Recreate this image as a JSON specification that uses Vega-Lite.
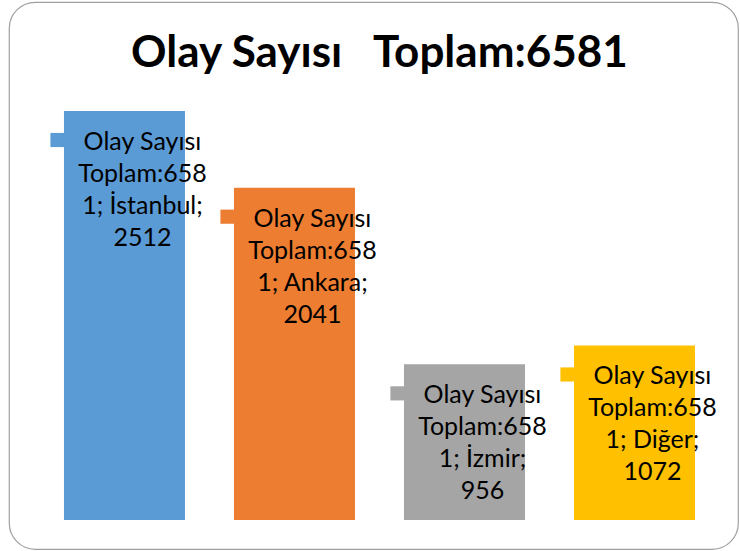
{
  "$schema": "https://vega.github.io/schema/vega-lite/v6.json",
  "width": 729,
  "height": 547,
  "autosize": {"type": "none"},
  "padding": {"left": 9, "top": 2, "right": 2, "bottom": 2},
  "background": "white",
  "config": {
    "view": {"stroke": "#a0a0a0", "strokeWidth": 1.2, "cornerRadius": 26},
    "font": "Lato"
  },
  "title": {
    "text": "Olay Sayısı\u00a0\u00a0\u00a0Toplam:6581",
    "font": "Lato",
    "fontSize": 44,
    "fontWeight": "bold",
    "color": "#000000",
    "anchor": "middle",
    "baseline": "alphabetic",
    "offset": -109,
    "dx": 6
  },
  "data": {
    "values": [
      {"city": "İstanbul", "value": 2512, "label": ["Olay Sayısı", "Toplam:658", "1; İstanbul;", "2512"]},
      {"city": "Ankara", "value": 2041, "label": ["Olay Sayısı", "Toplam:658", "1; Ankara;", "2041"]},
      {"city": "İzmir", "value": 956, "label": ["Olay Sayısı", "Toplam:658", "1; İzmir;", "956"]},
      {"city": "Diğer", "value": 1072, "label": ["Olay Sayısı", "Toplam:658", "1; Diğer;", "1072"]}
    ]
  },
  "encoding": {
    "x": {
      "field": "city",
      "type": "nominal",
      "sort": null,
      "axis": null,
      "scale": {"paddingInner": 0.2882, "paddingOuter": 0.2882, "align": 0.561}
    },
    "y": {
      "field": "value",
      "type": "quantitative",
      "axis": null,
      "scale": {"domain": [-178, 3181.5], "nice": false, "zero": false}
    },
    "color": {
      "field": "city",
      "type": "nominal",
      "legend": null,
      "scale": {
        "domain": ["İstanbul", "Ankara", "İzmir", "Diğer"],
        "range": ["#5B9BD5", "#ED7D31", "#A5A5A5", "#FFC000"]
      }
    }
  },
  "layer": [
    {
      "mark": {"type": "bar"},
      "encoding": {"y2": {"datum": 0}}
    },
    {
      "mark": {"type": "point", "shape": "square", "filled": true, "opacity": 1, "size": 200, "strokeWidth": 0, "xOffset": -67, "yOffset": 29}
    },
    {
      "mark": {"type": "text", "baseline": "top", "align": "center", "dx": 18, "dy": 19, "fontSize": 25, "lineHeight": 32, "color": "#000000"},
      "encoding": {"text": {"field": "label"}, "color": {"value": "#000000"}}
    }
  ]
}
